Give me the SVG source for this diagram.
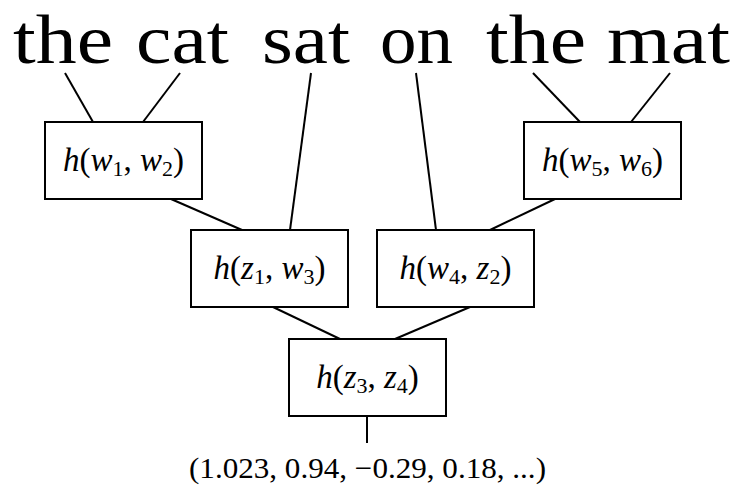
<svg xmlns="http://www.w3.org/2000/svg" width="735" height="487" viewBox="0 0 735 487">
<style>
.w{font-family:"Liberation Serif","Times New Roman",serif;font-size:70px;fill:#000}
.box rect{fill:#fff;stroke:#000;stroke-width:2}
.lbl{font-family:"Liberation Serif","Times New Roman",serif;font-size:33px;fill:#000;text-anchor:middle}
.i{font-style:italic}
.sub{font-size:22px}
.out{font-family:"Liberation Serif","Times New Roman",serif;font-size:30px;fill:#000}
#connectors line{stroke:#000;stroke-width:2}
</style>
<rect width="735" height="487" fill="#fff"/>
<g id="words">
<text class="w" x="13" y="63" textLength="100" lengthAdjust="spacingAndGlyphs">the</text>
<text class="w" x="136" y="63" textLength="93" lengthAdjust="spacingAndGlyphs">cat</text>
<text class="w" x="262" y="63" textLength="88" lengthAdjust="spacingAndGlyphs">sat</text>
<text class="w" x="380" y="63" textLength="73" lengthAdjust="spacingAndGlyphs">on</text>
<text class="w" x="486" y="63" textLength="100" lengthAdjust="spacingAndGlyphs">the</text>
<text class="w" x="607" y="63" textLength="123" lengthAdjust="spacingAndGlyphs">mat</text>
</g>
<g id="connectors">
<line x1="65" y1="73" x2="93" y2="122"/>
<line x1="180" y1="73" x2="143" y2="122"/>
<line x1="311" y1="73" x2="290" y2="230"/>
<line x1="416" y1="73" x2="436" y2="230"/>
<line x1="533" y1="73" x2="580" y2="122"/>
<line x1="670" y1="73" x2="631" y2="122"/>
<line x1="171" y1="199" x2="242" y2="230"/>
<line x1="555" y1="199" x2="490" y2="230"/>
<line x1="273" y1="307" x2="340" y2="339"/>
<line x1="470" y1="307" x2="395" y2="339"/>
<line x1="367" y1="416" x2="367" y2="443"/>
</g>
<g id="n_w1w2" class="box">
<rect x="45" y="122" width="157" height="77"/>
<text class="lbl" x="123.5" y="171"><tspan class="i">h</tspan>(<tspan class="i">w</tspan><tspan class="sub" dy="5">1</tspan><tspan dy="-5">, </tspan><tspan class="i">w</tspan><tspan class="sub" dy="5">2</tspan><tspan dy="-5">)</tspan></text>
</g>
<g id="n_w5w6" class="box">
<rect x="524" y="122" width="157" height="77"/>
<text class="lbl" x="602.5" y="171"><tspan class="i">h</tspan>(<tspan class="i">w</tspan><tspan class="sub" dy="5">5</tspan><tspan dy="-5">, </tspan><tspan class="i">w</tspan><tspan class="sub" dy="5">6</tspan><tspan dy="-5">)</tspan></text>
</g>
<g id="n_z1w3" class="box">
<rect x="191" y="230" width="157" height="77"/>
<text class="lbl" x="269.5" y="279"><tspan class="i">h</tspan>(<tspan class="i">z</tspan><tspan class="sub" dy="5">1</tspan><tspan dy="-5">, </tspan><tspan class="i">w</tspan><tspan class="sub" dy="5">3</tspan><tspan dy="-5">)</tspan></text>
</g>
<g id="n_w4z2" class="box">
<rect x="377" y="230" width="157" height="77"/>
<text class="lbl" x="455.5" y="279"><tspan class="i">h</tspan>(<tspan class="i">w</tspan><tspan class="sub" dy="5">4</tspan><tspan dy="-5">, </tspan><tspan class="i">z</tspan><tspan class="sub" dy="5">2</tspan><tspan dy="-5">)</tspan></text>
</g>
<g id="n_z3z4" class="box">
<rect x="289" y="339" width="157" height="77"/>
<text class="lbl" x="367.5" y="388"><tspan class="i">h</tspan>(<tspan class="i">z</tspan><tspan class="sub" dy="5">3</tspan><tspan dy="-5">, </tspan><tspan class="i">z</tspan><tspan class="sub" dy="5">4</tspan><tspan dy="-5">)</tspan></text>
</g>
<g id="output">
<text class="out" x="189" y="478" textLength="357" lengthAdjust="spacingAndGlyphs">(1.023, 0.94, −0.29, 0.18, ...)</text>
</g>
</svg>
